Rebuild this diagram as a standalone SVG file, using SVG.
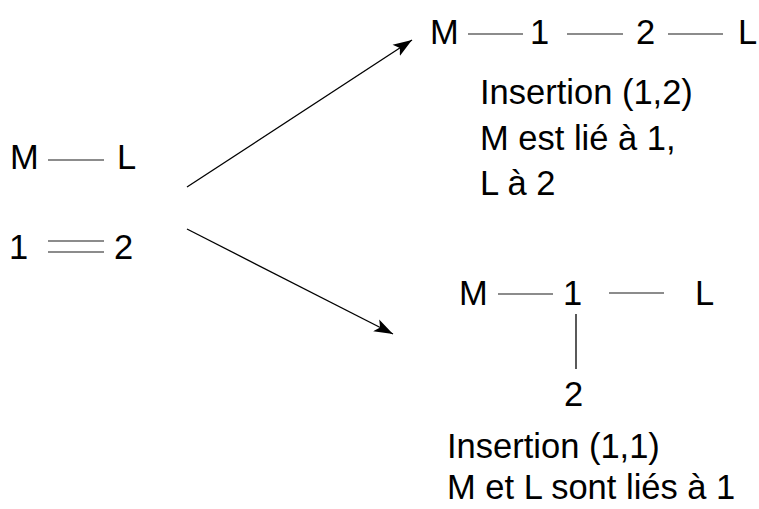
<svg xmlns="http://www.w3.org/2000/svg" width="759" height="509" viewBox="0 0 759 509">
<style>
text{font-family:"Liberation Sans",Arial,sans-serif;font-size:34.5px;fill:#000}
.bond{stroke:#666;stroke-width:1.6;fill:none}
.vbond{stroke:#000;stroke-width:1.3;fill:none}
.arrow{stroke:#000;stroke-width:1.3;fill:none;marker-end:url(#ah)}
</style>
<defs>
<marker id="ah" markerUnits="userSpaceOnUse" markerWidth="20" markerHeight="14" refX="17" refY="6" orient="auto" viewBox="0 0 18 12">
<path d="M0,0 L17,6 L0,12 L4,6 Z" fill="#000"/>
</marker>
</defs>
<rect width="759" height="509" fill="#fff"/>
<g id="connectors">
<line class="arrow" x1="187" y1="187" x2="412" y2="40"/>
<line class="arrow" x1="187" y1="229" x2="393" y2="334"/>
</g>
<g id="initial">
<g id="init-ML">
<text x="10" y="169">M</text>
<line class="bond" x1="48" y1="160" x2="104" y2="160"/>
<text x="117" y="169">L</text>
</g>
<g id="init-12">
<text x="9" y="259">1</text>
<line class="bond" x1="48" y1="241" x2="104" y2="241"/>
<line class="bond" x1="48" y1="252" x2="104" y2="252"/>
<text x="114" y="259">2</text>
</g>
</g>
<g id="result-12">
<text x="430" y="44">M</text>
<line class="bond" x1="468" y1="34" x2="523" y2="34"/>
<text x="530" y="44">1</text>
<line class="bond" x1="567" y1="34" x2="623" y2="34"/>
<text x="636" y="44">2</text>
<line class="bond" x1="668" y1="34" x2="723" y2="34"/>
<text x="738" y="44">L</text>
<text x="480" y="104">Insertion (1,2)</text>
<text x="480" y="150">M est lié à 1,</text>
<text x="480" y="195">L à 2</text>
</g>
<g id="result-11">
<text x="459" y="305">M</text>
<line class="bond" x1="498" y1="294" x2="553" y2="294"/>
<text x="563" y="305">1</text>
<line class="bond" x1="609" y1="293" x2="664" y2="293"/>
<text x="695" y="305">L</text>
<line class="vbond" x1="576" y1="314" x2="576" y2="369"/>
<text x="564" y="406">2</text>
<text x="447" y="458">Insertion (1,1)</text>
<text x="447" y="499">M et L sont liés à 1</text>
</g>
</svg>
